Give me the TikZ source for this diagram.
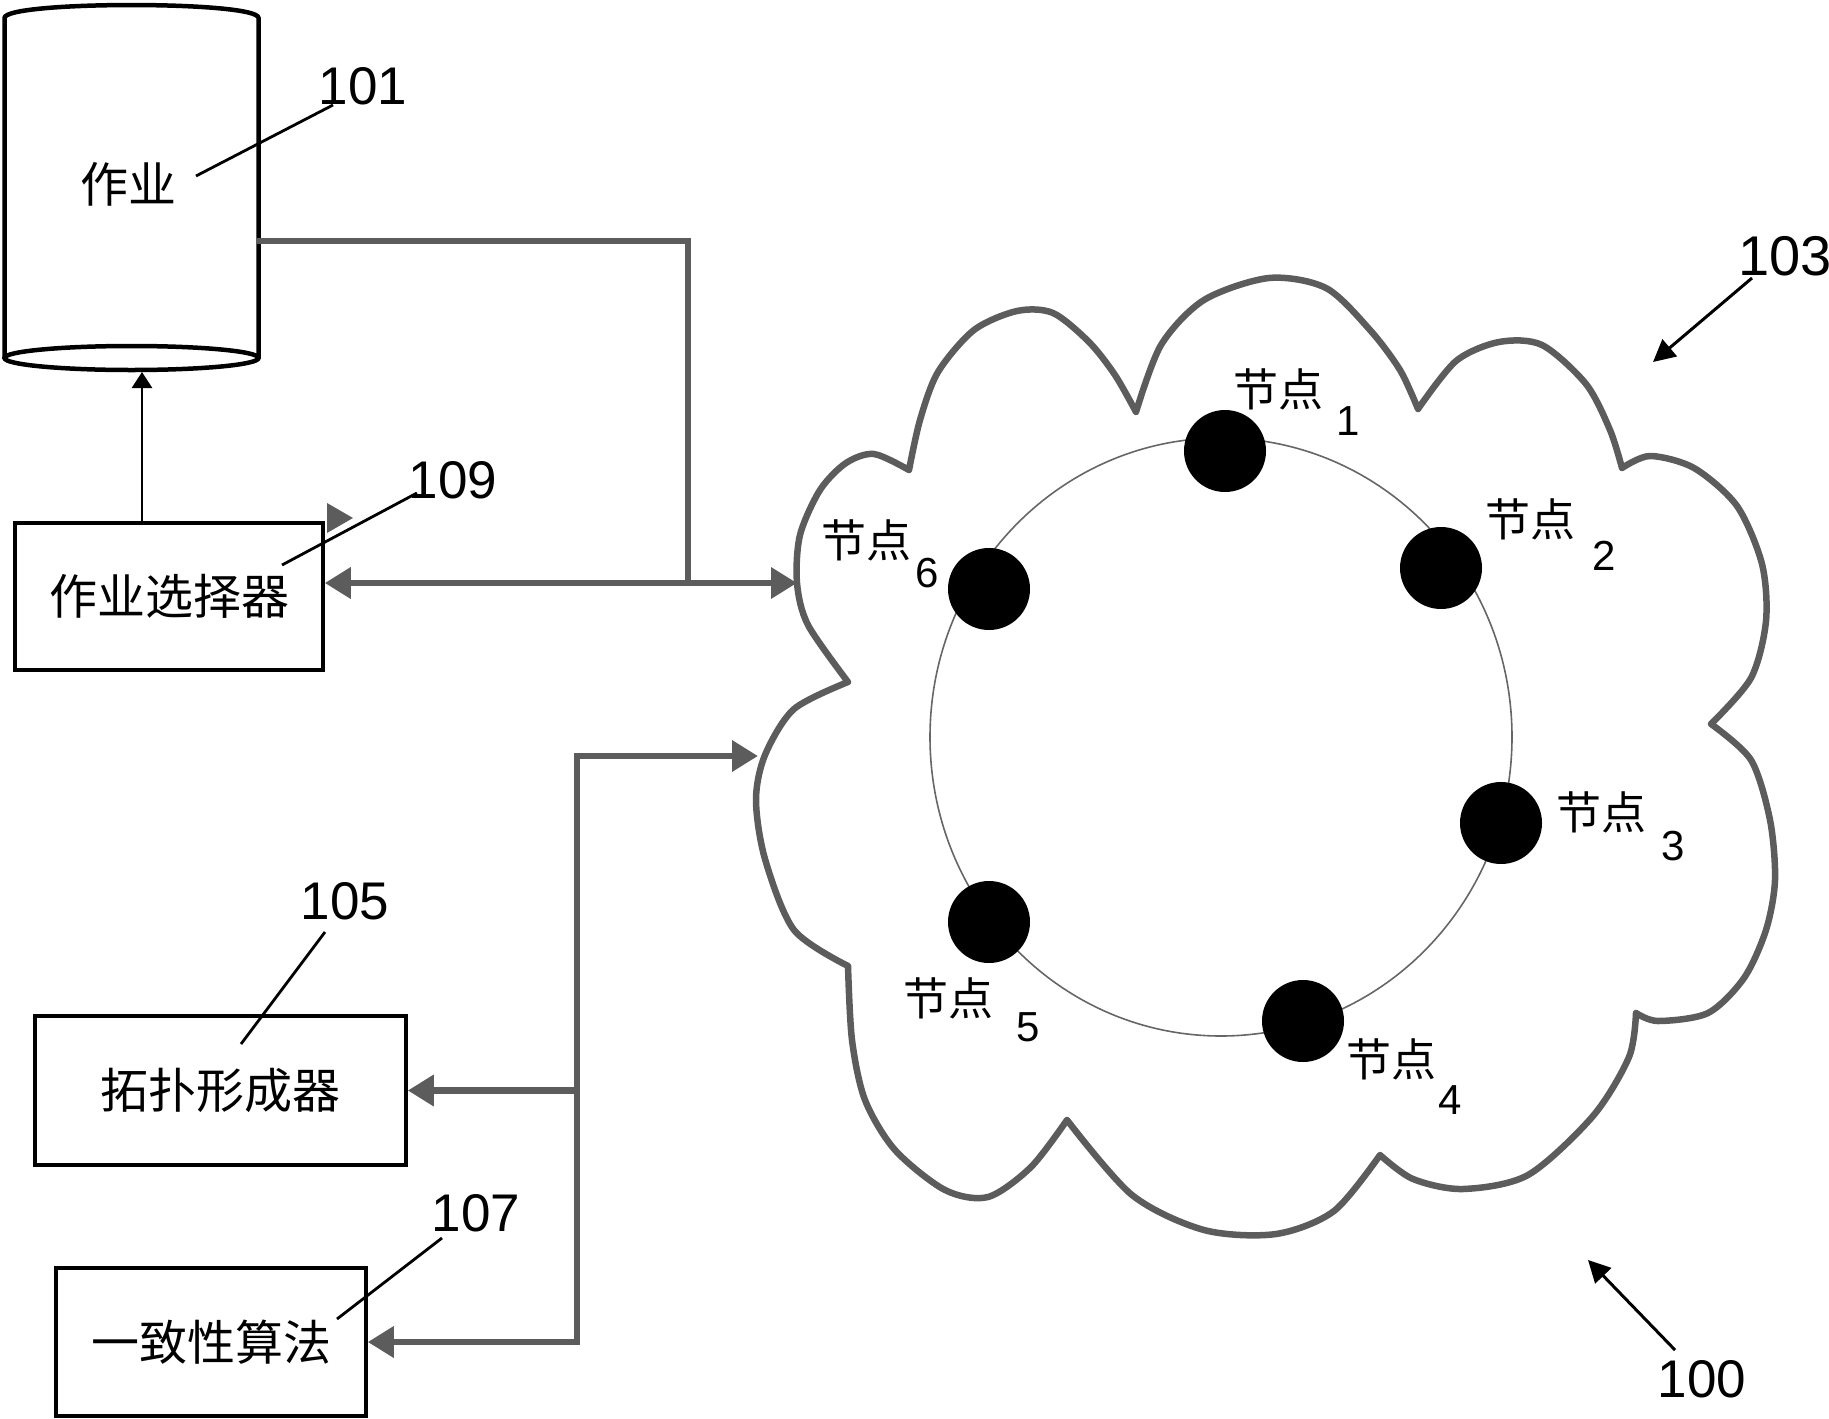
\documentclass[tikz,border=0pt]{standalone}
\usepackage{fontspec}
\setmainfont{Liberation Sans}
\newfontfamily\cjk{Noto Sans CJK SC}
\usetikzlibrary{arrows.meta}
\definecolor{hatch}{gray}{0.36}
\begin{document}
\begin{tikzpicture}[x=1pt,y=-1pt,
  boxnode/.style={draw, line width=3.5pt, inner sep=0pt, font=\cjk\fontsize{48}{52}\selectfont},
  cjklab/.style={font=\cjk\fontsize{45}{50}\selectfont, inner sep=0pt},
  num/.style={font=\fontsize{53}{58}\selectfont, inner sep=0pt},
  subnum/.style={font=\fontsize{42}{46}\selectfont, inner sep=0pt},
  dot/.style={circle, fill=black, minimum size=82pt, inner sep=0pt},
  gconn/.style={draw=hatch, line width=6.5pt, line cap=rect},
  gtip/.style={-{Triangle[length=26pt,width=30pt]}},
  leader/.style={line width=2.8pt},
  cyl/.style={line width=4.5pt},
  cloudline/.style={draw=hatch, line width=6.5pt, line cap=round, line join=round},
  ringline/.style={draw=black!60, line width=1.6pt},
]
\useasboundingbox (0,0) rectangle (1829,1419);

% ---------- job store (cylinder) ----------
\draw[cyl] (4.5,358) -- (4.5,18) .. controls (4.5,0.7) and (258.5,0.7) .. (258.5,18) -- (258.5,358);
\draw[cyl] (131.5,358) ellipse [x radius=127, y radius=12];
\node[inner sep=0pt, font=\cjk\fontsize{48}{52}\selectfont] (job) at (128,184) {作业};
\coordinate (jobR) at (259,241);
\coordinate (jobB) at (142,372);

% ---------- boxes ----------
\node[boxnode, minimum width=308pt, minimum height=147pt] (sel) at (169,596.5) {作业选择器};
\node[boxnode, minimum width=371pt, minimum height=149pt] (topo) at (220.5,1090.5) {拓扑形成器};
\node[boxnode, minimum width=310pt, minimum height=148pt] (cons) at (211,1342) {一致性算法};

% ---------- reference numbers ----------
\node[num] (l101) at (363,86) {101};
\node[num] (l109) at (453,480) {109};
\node[num] (l105) at (345,901) {105};
\node[num] (l107) at (476,1213) {107};
\node[num, font=\fontsize{56}{60}\selectfont] (l103) at (1785,256) {103};
\node[num] (l100) at (1702,1379) {100};

\coordinate (a101) at (196,176); \coordinate (b101) at (333,105);
\coordinate (a109) at (282,565); \coordinate (b109) at (417,493);
\coordinate (a105) at (241,1044); \coordinate (b105) at (325,932);
\coordinate (a107) at (337,1319); \coordinate (b107) at (442,1238);
\draw[leader] (a101) -- (b101);
\draw[leader] (a109) -- (b109);
\draw[leader] (a105) -- (b105);
\draw[leader] (a107) -- (b107);

% ---------- solid arrow selector -> jobs ----------
\draw[line width=2.8pt, -{Triangle[length=16pt,width=20pt]}] (sel.north -| jobB) -- (jobB);

% ---------- cloud ----------
\draw[cloudline]
 plot[smooth] coordinates {(848,682) (808,625) (797,583) (800,535) (820,490) (846,463) (874,454) (909,470)}
 plot[smooth] coordinates {(909,470) (920,420) (938,372) (974,330) (1017,311) (1053,313) (1089,342) (1115,375) (1136,412)}
 plot[smooth] coordinates {(1136,412) (1161,345) (1204,300) (1269,278) (1326,288) (1370,330) (1400,370) (1418,409)}
 plot[smooth] coordinates {(1418,409) (1456,361) (1499,342) (1542,345) (1586,384) (1610,430) (1622,468)}
 plot[smooth] coordinates {(1622,468) (1650,456) (1694,468) (1737,506) (1762,564) (1766,621) (1751,678) (1711,724)}
 plot[smooth] coordinates {(1711,724) (1751,760) (1770,820) (1775,880) (1766,930) (1744,978) (1708,1013) (1658,1021) (1636,1013)}
 plot[smooth] coordinates {(1636,1013) (1629,1057) (1593,1116) (1528,1175) (1463,1189) (1413,1179) (1380,1155)}
 plot[smooth] coordinates {(1380,1155) (1334,1211) (1276,1234) (1204,1230) (1132,1195) (1067,1120)}
 plot[smooth] coordinates {(1067,1120) (1031,1167) (988,1197) (945,1190) (895,1150) (865,1100) (852,1040) (848,966)}
 plot[smooth] coordinates {(848,966) (794,930) (765,859) (756,800) (765,755) (794,709) (848,682)};
\coordinate (cloudA) at (797,583);
\coordinate (cloudB) at (758,756);

% ---------- ring and nodes ----------
\draw[ringline] (1221,737) ellipse [x radius=291, y radius=299];
\node[dot] (n1) at (1225,451) {};
\node[dot] (n2) at (1441,568) {};
\node[dot] (n3) at (1501,823) {};
\node[dot] (n4) at (1303,1021) {};
\node[dot] (n5) at (989,922) {};
\node[dot] (n6) at (989,589) {};

\node[cjklab] (t1) at (1278,389) {节点};  \node[subnum] (s1) at (1348,421) {1};
\node[cjklab] (t2) at (1530,519) {节点};  \node[subnum] (s2) at (1604,556) {2};
\node[cjklab] (t3) at (1601,812) {节点};  \node[subnum] (s3) at (1673,846) {3};
\node[cjklab] (t4) at (1391,1059) {节点}; \node[subnum] (s4) at (1450,1100) {4};
\node[cjklab] (t5) at (948,998) {节点};   \node[subnum] (s5) at (1028,1027) {5};
\node[cjklab] (t6) at (866,540) {节点};   \node[subnum] (s6) at (927,573) {6};

% ---------- pointer arrows 103 / 100 ----------
\coordinate (a103) at (1752,278); \coordinate (b103) at (1653,362);
\coordinate (a100) at (1675,1350); \coordinate (b100) at (1588,1260);
\draw[line width=3pt, -{Triangle[length=22pt,width=22pt]}] (a103) -- (b103);
\draw[line width=3pt, -{Triangle[length=22pt,width=22pt]}] (a100) -- (b100);

% ---------- hatched connectors ----------
\coordinate (jn) at (688,583);
\coordinate (jn2) at (577,756);
\draw[gconn] (jobR) -| (jn);
\draw[gconn, gtip] (jn) -- (sel.east |- jn);
\draw[gconn, gtip] (jn) -- (cloudA);
\draw[gconn, gtip] (jn2) -- (cloudB);
\draw[gconn, gtip] (jn2) |- (cons.east);
\draw[gconn, gtip] (jn2 |- topo.east) -- (topo.east);
% stray arrow head at the selector's top right corner
\fill[hatch] (327,503) -- (327,533) -- (353,518) -- cycle;
\end{tikzpicture}
\end{document}
